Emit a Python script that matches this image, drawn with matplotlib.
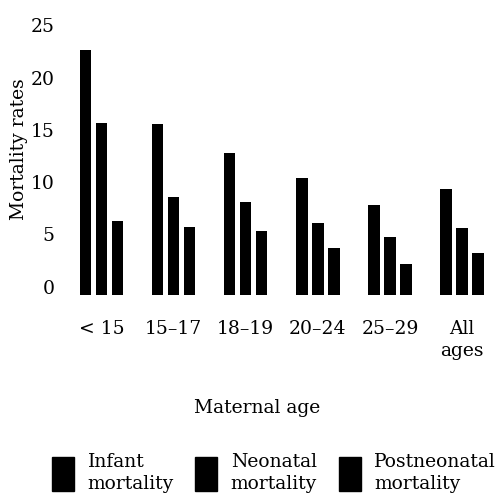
import numpy as np
import matplotlib
matplotlib.use('Agg')
import matplotlib.pyplot as plt
import matplotlib.transforms as mtransforms
from matplotlib.patches import Patch

# Data
age_groups = ['< 15', '15\u201317', '18\u201319', '20\u201324', '25\u201329', 'All\nages']
infant = [23.5, 16.4, 13.6, 11.2, 8.6, 10.2]
neonatal = [16.5, 9.4, 8.9, 6.9, 5.6, 6.4]
postneonatal = [7.1, 6.5, 6.1, 4.5, 3.0, 4.0]
series_names = ['Infant\nmortality', 'Neonatal\nmortality', 'Postneonatal\nmortality']
y_ticks = [0, 5, 10, 15, 20, 25]

plt.rcParams['font.family'] = ['DejaVu Serif']
fs = 13.5

fig = plt.figure(figsize=(5.03, 4.97), dpi=100)
W, H = 503, 497
ax = fig.add_axes([70 / W, 1 - 295 / H, 425 / W, 275 / H])

x = np.arange(len(age_groups))
step = 0.222
width = 0.16
for i, vals in enumerate([infant, neonatal, postneonatal]):
    ax.bar(x + (i - 1) * step, vals, width=width, color='black')

# x range chosen so group centres land where they sit in the reference
ax.set_xlim((70 - 101.5) / 72.1, (495 - 101.5) / 72.1)
ax.set_ylim(0, 275 / 10.44)

ax.set_xticks(x)
ax.set_xticklabels(age_groups, fontsize=fs, linespacing=1.25)
ax.set_yticks(y_ticks)
ax.set_yticklabels([str(t) for t in y_ticks], fontsize=fs)
ax.tick_params(axis='both', length=0)
ax.tick_params(axis='x', pad=18)
ax.tick_params(axis='y', pad=11)

# y labels sit slightly above their gridline in the original
shift = mtransforms.ScaledTranslation(0, 8.5 / 100, fig.dpi_scale_trans)
for lab in ax.get_yticklabels():
    lab.set_transform(lab.get_transform() + shift)

for s in ax.spines.values():
    s.set_visible(False)

fig.text(19 / W, 1 - 149 / H, 'Mortality rates', rotation=90,
         ha='center', va='center', fontsize=fs)
fig.text(257 / W, 1 - 408 / H, 'Maternal age', ha='center', va='center', fontsize=fs)

handles = [Patch(facecolor='black', edgecolor='black') for _ in series_names]
leg = fig.legend(handles, series_names, ncol=3, frameon=False, fontsize=fs,
                 loc='lower left', bbox_to_anchor=(39 / W, -9 / H),
                 handlelength=1.17, handleheight=2.4, handletextpad=0.72,
                 columnspacing=1.15, labelspacing=0.2, borderpad=0.2)
for t in leg.get_texts():
    t.set_linespacing(1.3)

fig.savefig('out.png', dpi=100)
